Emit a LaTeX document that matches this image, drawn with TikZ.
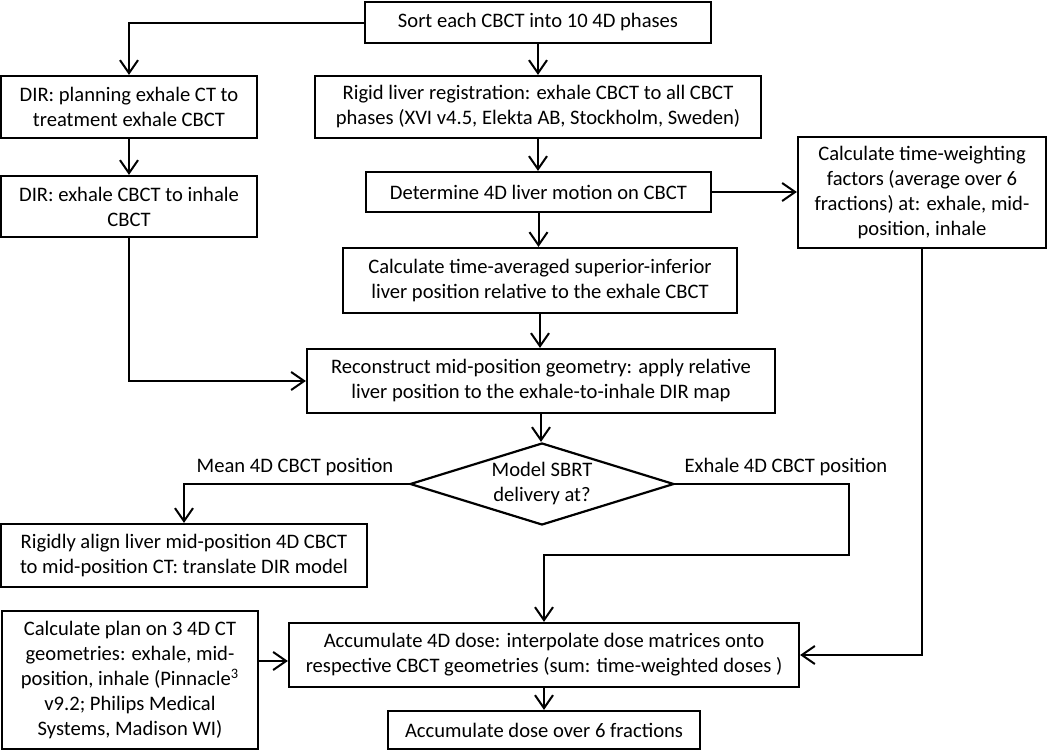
\documentclass[tikz,border=0pt]{standalone}
\usepackage{fontspec}
\setmainfont{Carlito}
\usetikzlibrary{arrows.meta,shapes.geometric}

\begin{document}
\begin{tikzpicture}[x=0.5pt, y=-0.5pt, line width=1pt,
  font=\fontsize{10.3}{12.5}\selectfont,
  box/.style={draw, line width=1.1pt, align=center, inner sep=1pt},
  choice/.style={draw, line width=1.1pt, diamond, aspect=3.2, inner sep=0pt, align=center},
  arr/.style={-{Straight Barb[length=6.5pt, width=9pt]}}]
\useasboundingbox[fill=white] (0,0) rectangle (1050,750);
\node[box, minimum width=173pt, minimum height=20.5pt] (sort) at (538,22.5) {Sort each CBCT into 10 4D phases};
\node[box, minimum width=128pt, minimum height=31pt] (dirplan) at (129,107) {DIR: planning exhale CT to\\treatment exhale CBCT};
\node[box, minimum width=128pt, minimum height=30.5pt] (direxh) at (129,206.5) {DIR: exhale CBCT to inhale\\CBCT};
\node[box, minimum width=223pt, minimum height=31pt] (rigid) at (538,107) {Rigid liver registration: exhale CBCT to all CBCT\\phases (XVI v4.5, Elekta AB, Stockholm, Sweden)};
\node[box, minimum width=172.5pt, minimum height=20pt] (motion) at (538.5,192) {Determine 4D liver motion on CBCT};
\node[box, minimum width=124pt, minimum height=55.5pt] (weight) at (922,192.5) {Calculate time-weighting\\factors (average over 6\\fractions) at: exhale, mid-\\position, inhale};
\node[box, minimum width=197pt, minimum height=32.5pt] (avgpos) at (540,280.5) {Calculate time-averaged superior-inferior\\liver position relative to the exhale CBCT};
\node[box, minimum width=234pt, minimum height=32pt] (midpos) at (541,381) {Reconstruct mid-position geometry: apply relative\\liver position to the exhale-to-inhale DIR map};
\node[choice, minimum width=132pt, minimum height=41pt] (model) at (542,484) {Model SBRT\\delivery at?};
\node (meanlbl) at (295,467) {Mean 4D CBCT position};
\node (exhlbl) at (786,467) {Exhale 4D CBCT position};
\node[box, minimum width=183pt, minimum height=31.5pt] (align) at (184,555.5) {Rigidly align liver mid-position 4D CBCT\\to mid-position CT: translate DIR model};
\node[box, minimum width=128pt, minimum height=69pt] (plan) at (130,680) {Calculate plan on 3 4D CT\\geometries: exhale, mid-\\position, inhale (Pinnacle\textsuperscript{3}\\v9.2; Philips Medical\\Systems, Madison WI)};
\node[box, minimum width=255pt, minimum height=32pt] (dose4d) at (544,655) {Accumulate 4D dose: interpolate dose matrices onto\\respective CBCT geometries (sum: time-weighted doses )};
\node[box, minimum width=156pt, minimum height=19pt] (dosesum) at (544,730) {Accumulate dose over 6 fractions};
\coordinate (exhjoin) at (849,555);
\coordinate (planin) at ([yshift=-3pt]dose4d.west);
\draw[arr] (sort.west) -| (dirplan.north);
\draw[arr] (sort.south) -- (rigid.north);
\draw[arr] (dirplan.south) -- (direxh.north);
\draw[arr] (rigid.south) -- (rigid.south |- motion.north);
\draw[arr] (motion.east) -- (motion.east -| weight.west);
\draw[arr] (motion.south) -- (motion.south |- avgpos.north);
\draw[arr] (avgpos.south) -- (avgpos.south |- midpos.north);
\draw[arr] (direxh.south) |- (midpos.west);
\draw[arr] (midpos.south) -- (midpos.south |- model.north);
\draw[arr] (model.west) -| (align.north);
\draw[arr] (model.east) -| (exhjoin) -| (dose4d.north);
\draw[arr] (weight.south) |- (dose4d.east);
\draw[arr] (plan.east |- planin) -- (planin);
\draw[arr] (dose4d.south) -- (dose4d.south |- dosesum.north);
\end{tikzpicture}
\end{document}
